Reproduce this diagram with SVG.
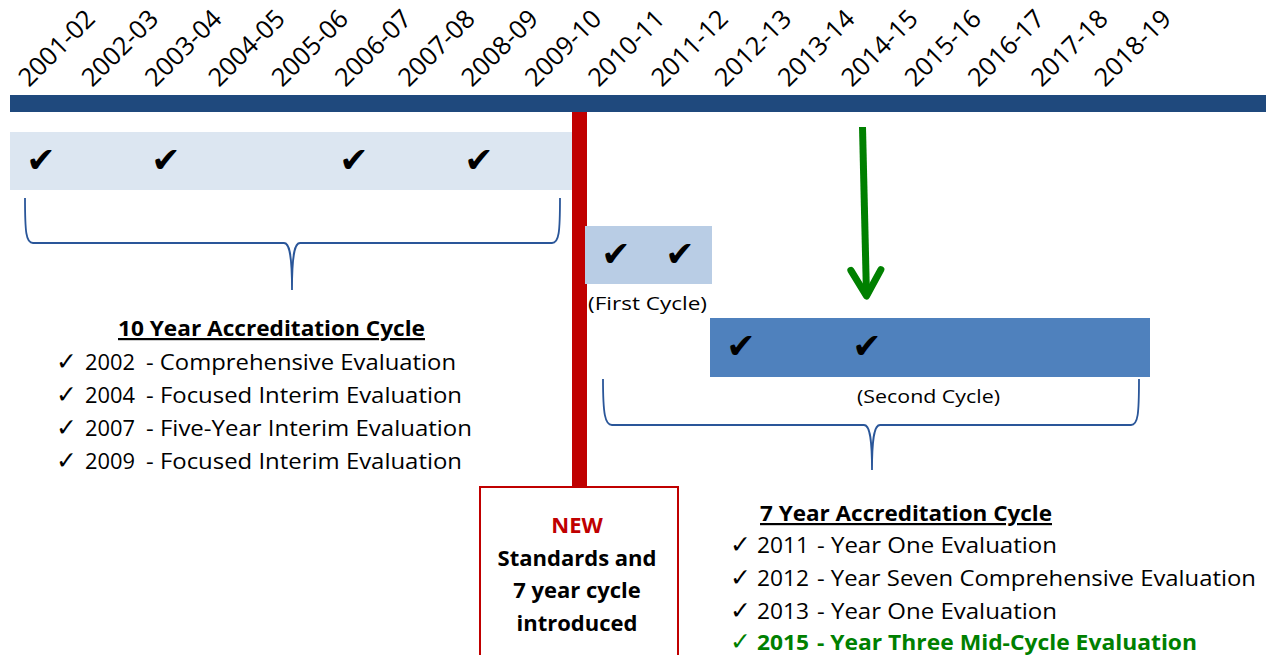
<svg xmlns="http://www.w3.org/2000/svg" width="1266" height="655" viewBox="0 0 1266 655">
<defs>
<style>
.yr{font-family:"Open Sans","Liberation Sans",sans-serif;font-size:25.5px;fill:#000}
.chk{font-family:"DejaVu Sans",sans-serif;font-size:35px;fill:#000;text-anchor:middle}
.lchk{font-family:"DejaVu Sans",sans-serif;font-size:25px;fill:#000}
.txt{font-family:"Open Sans","Liberation Sans",sans-serif;font-size:22px;fill:#000}
.cap{font-family:"Open Sans","Liberation Sans",sans-serif;font-size:18px;fill:#000}
.ttl{font-family:"Open Sans","Liberation Sans",sans-serif;font-size:22px;font-weight:bold;fill:#000;text-decoration:underline}
.bold{font-family:"Open Sans","Liberation Sans",sans-serif;font-size:22px;font-weight:bold;fill:#000;text-anchor:middle}
.brace{fill:none;stroke:#2a5699;stroke-width:1.8}
.green{fill:#008000}
</style>
<marker id="vhead" markerUnits="userSpaceOnUse" viewBox="-35 -25 45 50" markerWidth="45" markerHeight="50" refX="0" refY="0" orient="auto" overflow="visible">
<path d="M-26,-15 L0,0 L-26,15" fill="none" stroke="#008000" stroke-width="7" stroke-linecap="round" stroke-linejoin="round"/>
</marker>
</defs>
<rect width="1266" height="655" fill="#fff"/>

<g id="connectors">
<rect id="new-line" x="572" y="110" width="15" height="378" fill="#c00000"/>
<path id="green-arrow" d="M862.5,127 L866.5,296" fill="none" stroke="#008000" stroke-width="7" marker-end="url(#vhead)"/>
</g>

<g id="timeline">
<rect x="10" y="95" width="1256" height="17" fill="#1f497d"/>
</g>

<g id="year-labels" class="yr">
<text x="29" y="88" transform="rotate(-45 29 88)">2001-02</text>
<text x="92.3" y="88" transform="rotate(-45 92.3 88)">2002-03</text>
<text x="155.6" y="88" transform="rotate(-45 155.6 88)">2003-04</text>
<text x="218.9" y="88" transform="rotate(-45 218.9 88)">2004-05</text>
<text x="282.2" y="88" transform="rotate(-45 282.2 88)">2005-06</text>
<text x="345.5" y="88" transform="rotate(-45 345.5 88)">2006-07</text>
<text x="408.8" y="88" transform="rotate(-45 408.8 88)">2007-08</text>
<text x="472.1" y="88" transform="rotate(-45 472.1 88)">2008-09</text>
<text x="535.4" y="88" transform="rotate(-45 535.4 88)">2009-10</text>
<text x="598.7" y="88" transform="rotate(-45 598.7 88)">2010-11</text>
<text x="662" y="88" transform="rotate(-45 662 88)">2011-12</text>
<text x="725.3" y="88" transform="rotate(-45 725.3 88)">2012-13</text>
<text x="788.6" y="88" transform="rotate(-45 788.6 88)">2013-14</text>
<text x="851.9" y="88" transform="rotate(-45 851.9 88)">2014-15</text>
<text x="915.2" y="88" transform="rotate(-45 915.2 88)">2015-16</text>
<text x="978.5" y="88" transform="rotate(-45 978.5 88)">2016-17</text>
<text x="1041.8" y="88" transform="rotate(-45 1041.8 88)">2017-18</text>
<text x="1105.1" y="88" transform="rotate(-45 1105.1 88)">2018-19</text>
</g>

<g id="ten-year-bar">
<rect x="10" y="132" width="562" height="58" fill="#dce6f1"/>
<text class="chk" x="41" y="172">✔</text>
<text class="chk" x="166" y="172">✔</text>
<text class="chk" x="354" y="172">✔</text>
<text class="chk" x="479" y="172">✔</text>
</g>

<g id="first-cycle">
<rect x="585" y="226" width="127" height="58" fill="#b9cde5"/>
<text class="chk" x="616" y="266">✔</text>
<text class="chk" x="680" y="266">✔</text>
<text class="cap" x="588" y="310" textLength="119" lengthAdjust="spacingAndGlyphs">(First Cycle)</text>
</g>

<g id="second-cycle">
<rect x="710" y="318" width="440" height="59" fill="#4f81bd"/>
<text class="chk" x="741" y="358">✔</text>
<text class="chk" x="867" y="358">✔</text>
<text class="cap" x="857" y="403" textLength="143" lengthAdjust="spacingAndGlyphs">(Second Cycle)</text>
</g>

<g id="brace-ten">
<path class="brace" d="M25,198 C25,232 26,243 33,243 L284,243 C289,243 292,252 292,290 M292,290 C292,252 295,243 300,243 L552,243 C559,243 560,232 560,198"/>
</g>

<g id="brace-seven">
<path class="brace" d="M603,379 C603,414 605,425 612,425 L864,425 C869,425 872,434 872,470 M872,470 C872,434 875,425 880,425 L1131,425 C1138,425 1139,414 1139,379"/>
</g>

<g id="ten-year-list">
<text class="ttl" x="118" y="336" textLength="307" lengthAdjust="spacingAndGlyphs">10 Year Accreditation Cycle</text>
<text class="lchk" x="56" y="370">✓</text>
<text class="txt" x="85" y="370" textLength="50" lengthAdjust="spacingAndGlyphs">2002</text>
<text class="txt" x="146" y="370" textLength="310" lengthAdjust="spacingAndGlyphs">- Comprehensive Evaluation</text>
<text class="lchk" x="56" y="403">✓</text>
<text class="txt" x="85" y="403" textLength="50" lengthAdjust="spacingAndGlyphs">2004</text>
<text class="txt" x="146" y="403" textLength="316" lengthAdjust="spacingAndGlyphs">- Focused Interim Evaluation</text>
<text class="lchk" x="56" y="436">✓</text>
<text class="txt" x="85" y="436" textLength="50" lengthAdjust="spacingAndGlyphs">2007</text>
<text class="txt" x="146" y="436" textLength="326" lengthAdjust="spacingAndGlyphs">- Five-Year Interim Evaluation</text>
<text class="lchk" x="56" y="469">✓</text>
<text class="txt" x="85" y="469" textLength="50" lengthAdjust="spacingAndGlyphs">2009</text>
<text class="txt" x="146" y="469" textLength="316" lengthAdjust="spacingAndGlyphs">- Focused Interim Evaluation</text>
</g>

<g id="new-standards">
<rect x="480" y="487" width="198" height="180" fill="#fff" stroke="#c00000" stroke-width="2"/>
<text class="bold" x="577" y="533" style="fill:#c00000">NEW</text>
<text class="bold" x="577" y="566" textLength="159" lengthAdjust="spacingAndGlyphs">Standards and</text>
<text class="bold" x="577" y="598">7 year cycle</text>
<text class="bold" x="577" y="631">introduced</text>
</g>

<g id="seven-year-list">
<text class="ttl" x="760" y="521" textLength="292" lengthAdjust="spacingAndGlyphs">7 Year Accreditation Cycle</text>
<text class="lchk" x="730" y="553">✓</text>
<text class="txt" x="757" y="553" textLength="52" lengthAdjust="spacingAndGlyphs">2011</text>
<text class="txt" x="817" y="553" textLength="240" lengthAdjust="spacingAndGlyphs">- Year One Evaluation</text>
<text class="lchk" x="730" y="586">✓</text>
<text class="txt" x="757" y="586" textLength="52" lengthAdjust="spacingAndGlyphs">2012</text>
<text class="txt" x="817" y="586" textLength="439" lengthAdjust="spacingAndGlyphs">- Year Seven Comprehensive Evaluation</text>
<text class="lchk" x="730" y="619">✓</text>
<text class="txt" x="757" y="619" textLength="52" lengthAdjust="spacingAndGlyphs">2013</text>
<text class="txt" x="817" y="619" textLength="240" lengthAdjust="spacingAndGlyphs">- Year One Evaluation</text>
<text class="lchk green" x="730" y="650" font-weight="bold">✓</text>
<text class="txt green" x="757" y="650" font-weight="bold" textLength="52" lengthAdjust="spacingAndGlyphs">2015</text>
<text class="txt green" x="817" y="650" font-weight="bold" textLength="380" lengthAdjust="spacingAndGlyphs">- Year Three Mid-Cycle Evaluation</text>
</g>
</svg>
